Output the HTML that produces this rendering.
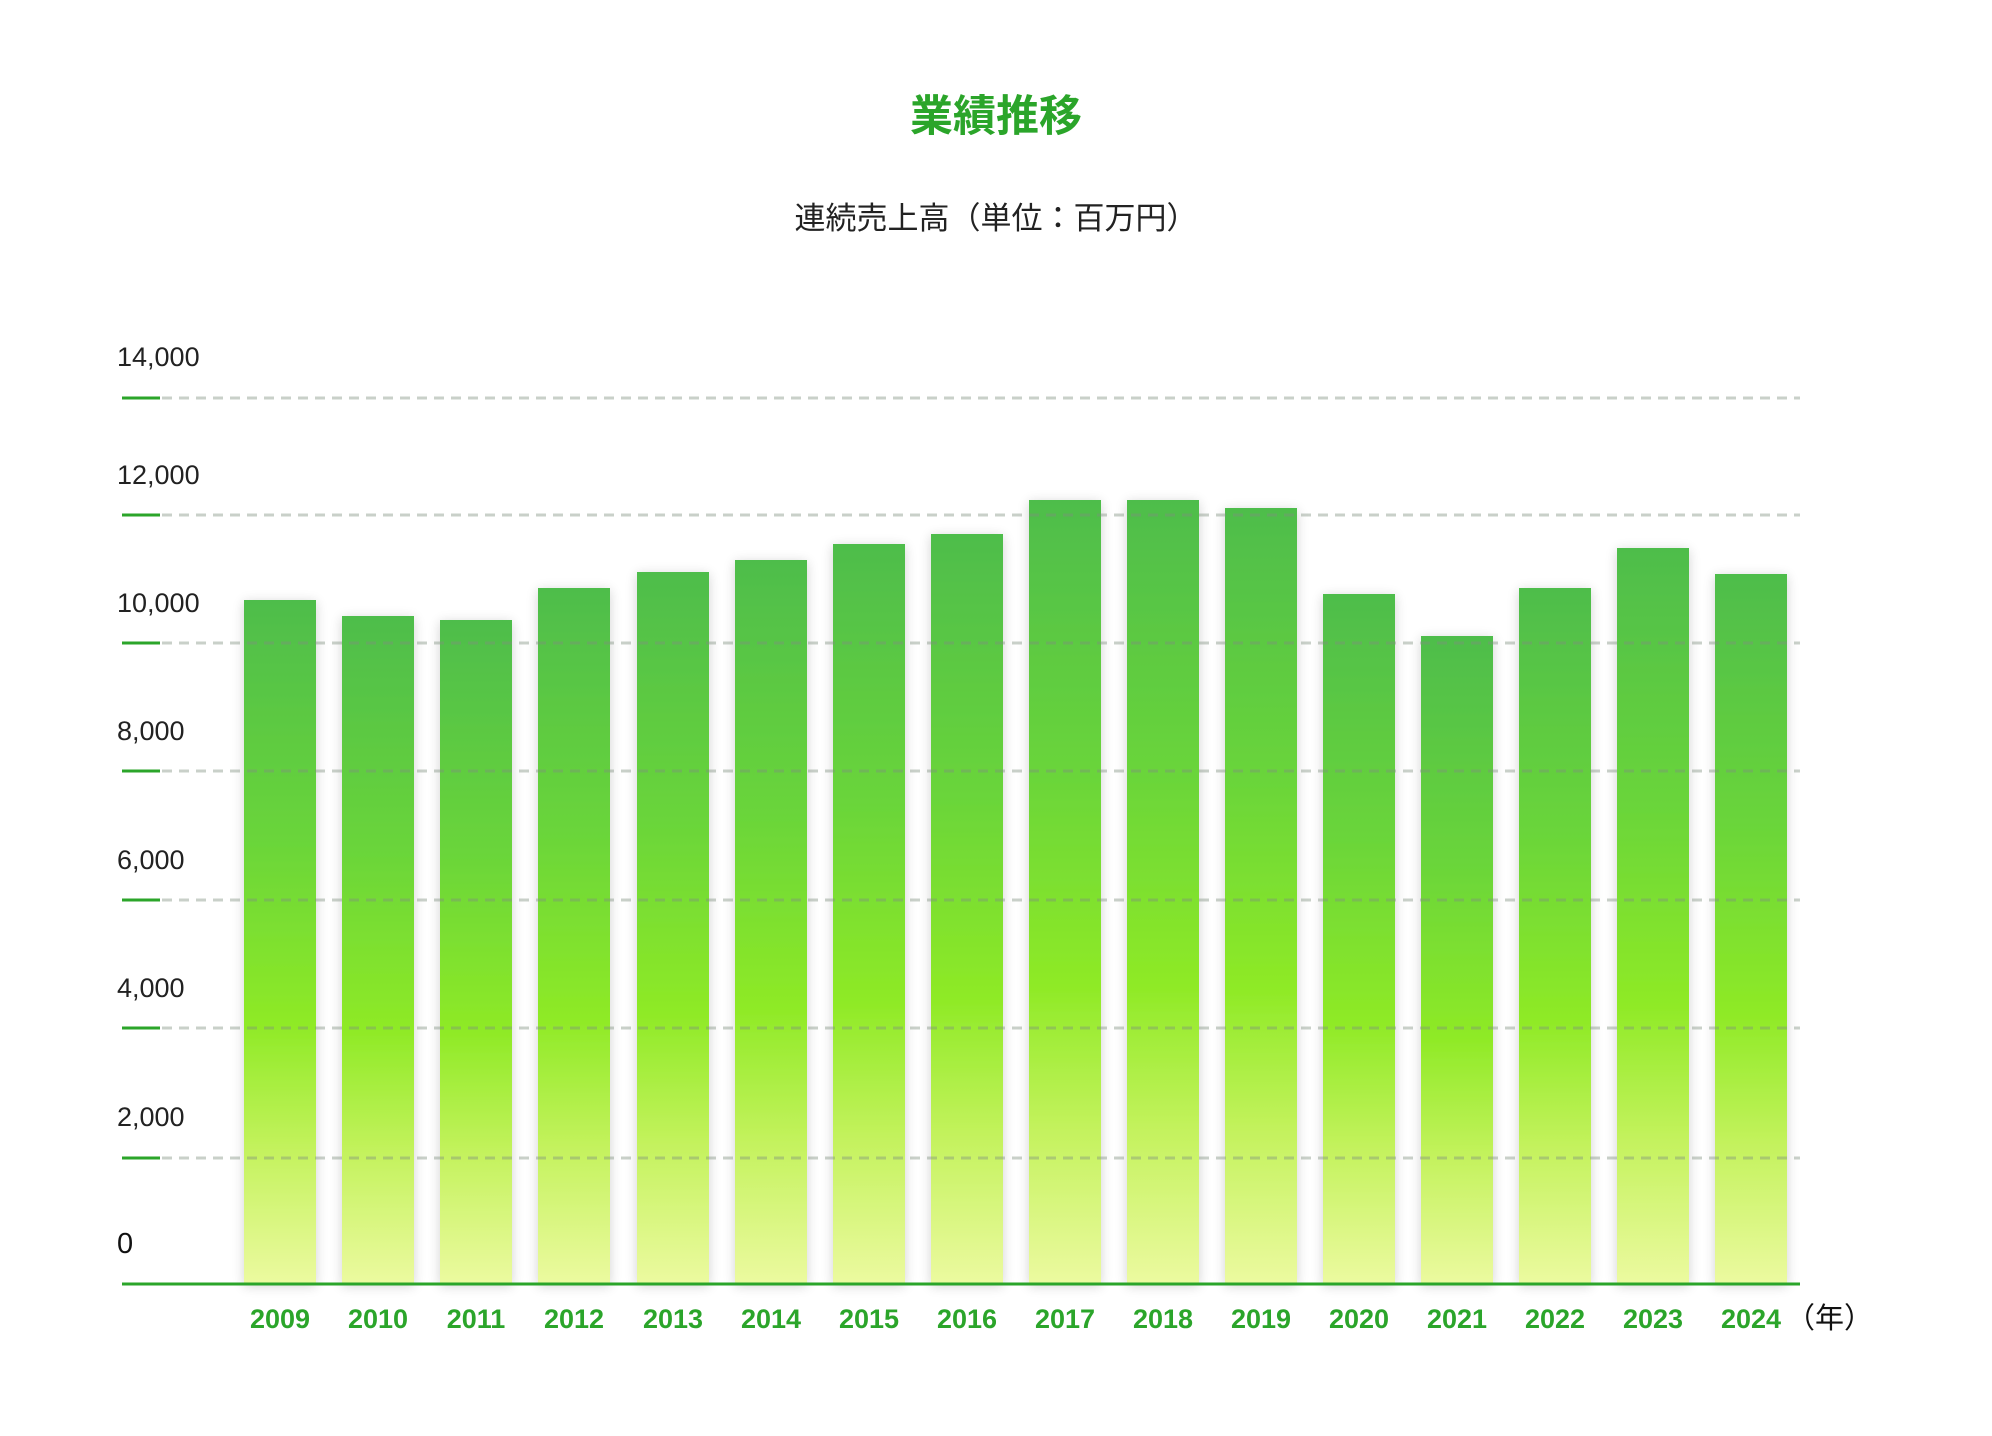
<!DOCTYPE html>
<html><head><meta charset="utf-8"><style>
html,body{margin:0;padding:0;background:#fff;}
svg{display:block;}
</style></head><body>
<svg width="1992" height="1436" viewBox="0 0 1992 1436" xmlns="http://www.w3.org/2000/svg">
<defs>
<linearGradient id="g" x1="0" y1="0" x2="0" y2="1">
<stop offset="0" stop-color="#4ebd4b"/>
<stop offset="0.35" stop-color="#6ad53a"/>
<stop offset="0.62" stop-color="#8fea26"/>
<stop offset="0.8" stop-color="#c3f25c"/>
<stop offset="1" stop-color="#ecfaa0"/>
</linearGradient>
<filter id="sh" x="-30%" y="-10%" width="160%" height="120%">
<feGaussianBlur in="SourceAlpha" stdDeviation="6"/>
<feOffset dx="0" dy="2"/>
<feComponentTransfer><feFuncA type="linear" slope="0.18"/></feComponentTransfer>
<feMerge><feMergeNode/><feMergeNode in="SourceGraphic"/></feMerge>
</filter>
</defs>
<text x="996" y="131" text-anchor="middle" font-family="'Liberation Sans','Noto Sans CJK JP',sans-serif" font-weight="bold" font-size="43" fill="#2ba52a">業績推移</text>
<text x="996" y="229" text-anchor="middle" font-family="'Liberation Sans','Noto Sans CJK JP',sans-serif" font-size="31" fill="#222">連続売上高（単位：百万円）</text>
<g font-family="'Liberation Sans','DejaVu Sans',sans-serif" font-size="27" fill="#222">
<text x="117" y="366">14,000</text>
<text x="117" y="484">12,000</text>
<text x="117" y="612">10,000</text>
<text x="117" y="740">8,000</text>
<text x="117" y="869">6,000</text>
<text x="117" y="997">4,000</text>
<text x="117" y="1126">2,000</text>
<text x="117" y="1253" font-size="29" fill="#111">0</text>
</g>
<g filter="url(#sh)" fill="url(#g)">
<rect x="244" y="600" width="72" height="684"/>
<rect x="342" y="616" width="72" height="668"/>
<rect x="440" y="620" width="72" height="664"/>
<rect x="538" y="588" width="72" height="696"/>
<rect x="637" y="572" width="72" height="712"/>
<rect x="735" y="560" width="72" height="724"/>
<rect x="833" y="544" width="72" height="740"/>
<rect x="931" y="534" width="72" height="750"/>
<rect x="1029" y="500" width="72" height="784"/>
<rect x="1127" y="500" width="72" height="784"/>
<rect x="1225" y="508" width="72" height="776"/>
<rect x="1323" y="594" width="72" height="690"/>
<rect x="1421" y="636" width="72" height="648"/>
<rect x="1519" y="588" width="72" height="696"/>
<rect x="1617" y="548" width="72" height="736"/>
<rect x="1715" y="574" width="72" height="710"/>
</g>
<g stroke="#7f8f7f" stroke-opacity="0.42" stroke-width="3" stroke-dasharray="10 7">
<line x1="162" y1="398" x2="1800" y2="398"/>
<line x1="162" y1="515" x2="1800" y2="515"/>
<line x1="162" y1="643" x2="1800" y2="643"/>
<line x1="162" y1="771" x2="1800" y2="771"/>
<line x1="162" y1="900" x2="1800" y2="900"/>
<line x1="162" y1="1028" x2="1800" y2="1028"/>
<line x1="162" y1="1158" x2="1800" y2="1158"/>
</g>
<g stroke="#2ba52a" stroke-width="3">
<line x1="122" y1="398" x2="160" y2="398"/>
<line x1="122" y1="515" x2="160" y2="515"/>
<line x1="122" y1="643" x2="160" y2="643"/>
<line x1="122" y1="771" x2="160" y2="771"/>
<line x1="122" y1="900" x2="160" y2="900"/>
<line x1="122" y1="1028" x2="160" y2="1028"/>
<line x1="122" y1="1158" x2="160" y2="1158"/>
<line x1="122" y1="1284" x2="1800" y2="1284"/>
</g>
<g font-family="'Liberation Sans','DejaVu Sans',sans-serif" font-weight="bold" font-size="27" fill="#2ba52a" text-anchor="middle">
<text x="280" y="1328">2009</text>
<text x="378" y="1328">2010</text>
<text x="476" y="1328">2011</text>
<text x="574" y="1328">2012</text>
<text x="673" y="1328">2013</text>
<text x="771" y="1328">2014</text>
<text x="869" y="1328">2015</text>
<text x="967" y="1328">2016</text>
<text x="1065" y="1328">2017</text>
<text x="1163" y="1328">2018</text>
<text x="1261" y="1328">2019</text>
<text x="1359" y="1328">2020</text>
<text x="1457" y="1328">2021</text>
<text x="1555" y="1328">2022</text>
<text x="1653" y="1328">2023</text>
<text x="1751" y="1328">2024</text>
</g>
<text x="1786" y="1328" font-family="'Liberation Sans','Noto Sans CJK JP',sans-serif" font-size="29" fill="#111">（年）</text>
</svg>
</body></html>
